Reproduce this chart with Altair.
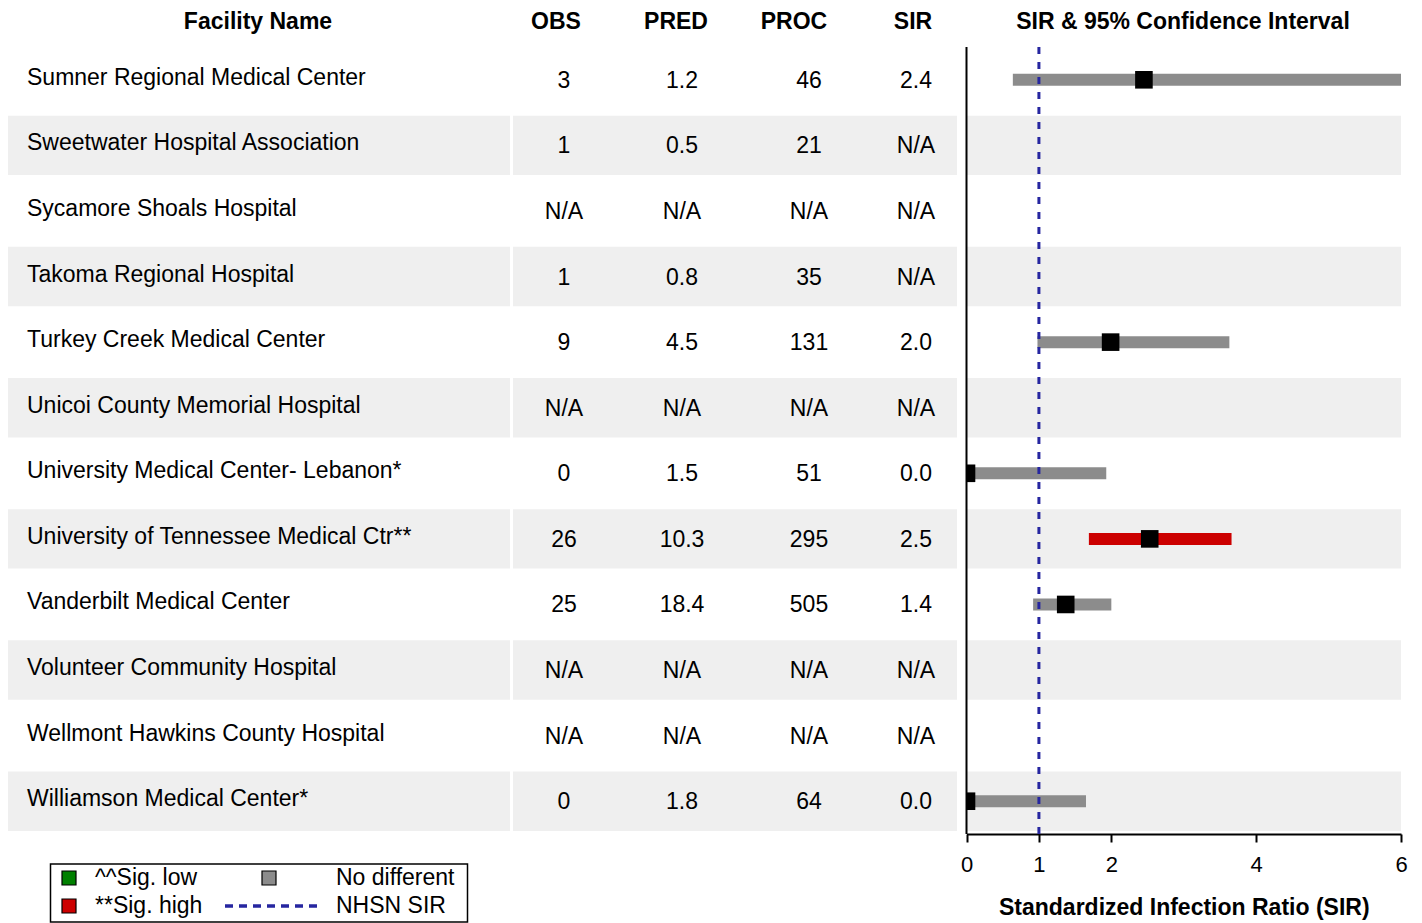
import altair as alt
import pandas as pd

facilities = [
    "Sumner Regional Medical Center",
    "Sweetwater Hospital Association",
    "Sycamore Shoals Hospital",
    "Takoma Regional Hospital",
    "Turkey Creek Medical Center",
    "Unicoi County Memorial Hospital",
    "University Medical Center- Lebanon*",
    "University of Tennessee Medical Ctr**",
    "Vanderbilt Medical Center",
    "Volunteer Community Hospital",
    "Wellmont Hawkins County Hospital",
    "Williamson Medical Center*",
]
obs = ["3", "1", "N/A", "1", "9", "N/A", "0", "26", "25", "N/A", "N/A", "0"]
pred = ["1.2", "0.5", "N/A", "0.8", "4.5", "N/A", "1.5", "10.3", "18.4", "N/A", "N/A", "1.8"]
proc = ["46", "21", "N/A", "35", "131", "N/A", "51", "295", "505", "N/A", "N/A", "64"]
sir = ["2.4", "N/A", "N/A", "N/A", "2.0", "N/A", "0.0", "2.5", "1.4", "N/A", "N/A", "0.0"]
sir_point = [2.45, None, None, None, 1.99, None, 0.0, 2.53, 1.37, None, None, 0.0]
ci_lower = [0.64, None, None, None, 0.98, None, 0.0, 1.69, 0.92, None, None, 0.0]
ci_upper = [6.0, None, None, None, 3.63, None, 1.93, 3.66, 2.00, None, None, 1.65]
category = ["No different", None, None, None, "No different", None, "No different",
            "Sig. high", "No different", None, None, "No different"]
striped = [i % 2 == 1 for i in range(len(facilities))]

cat_domain = ["Sig. low", "Sig. high", "No different"]
cat_colors = ["#008000", "#cc0000", "#8c8c8c"]
nhsn_value = 1
x_ticks = [0, 1, 2, 4, 6]

df = pd.DataFrame({
    "facility": facilities, "obs": obs, "pred": pred, "proc": proc, "sir": sir,
    "sir_point": sir_point, "lower": ci_lower, "upper": ci_upper,
    "category": category, "striped": striped,
})

FONT = "Liberation Sans"
W, H = 1393, 787
X_TITLE = "Standardized Infection Ratio (SIR)"

yscale = alt.Scale(domain=facilities, paddingInner=0, paddingOuter=0)
y_enc = alt.Y("facility:N", scale=yscale, axis=None, sort=None)
xs = alt.Scale(domain=[0, 6], range=[958.5, 1393], nice=False, zero=False)
x_axis = alt.Axis(values=x_ticks, grid=False, format="d", labelFlush=False)

base = alt.Chart(df)
stripes_df = base.transform_filter("datum.striped")

layers = []
# row stripes (three column blocks)
for x0, x1 in [(0, 502), (505, 950), (958, 1393)]:
    layers.append(
        stripes_df.mark_bar(color="#efefef", height=alt.RelativeBandSize(0.906)).encode(
            x=alt.value(x0), x2=alt.value(x1), y=y_enc
        )
    )

# facility names
layers.append(
    base.mark_text(align="left", baseline="middle", font=FONT, fontSize=23, color="black", dy=-2).encode(
        x=alt.value(19), y=y_enc, text="facility:N"
    )
)
# numeric columns
for field, xc in [("obs", 556), ("pred", 674), ("proc", 801), ("sir", 908)]:
    layers.append(
        base.mark_text(align="center", baseline="middle", font=FONT, fontSize=23, color="black", dy=1).encode(
            x=alt.value(xc), y=y_enc, text=f"{field}:N"
        )
    )

one = alt.Chart(pd.DataFrame({"k": [0]}))
# headers
for label, xc in [("Facility Name", 250), ("OBS", 548), ("PRED", 668), ("PROC", 786), ("SIR", 905),
                  ("SIR & 95% Confidence Interval", 1175)]:
    layers.append(
        one.mark_text(text=label, align="center", baseline="middle", font=FONT, fontSize=23,
                      fontWeight="bold", color="black").encode(x=alt.value(xc), y=alt.value(-25))
    )

# CI bars
layers.append(
    base.mark_bar(height=12, clip=True).encode(
        x=alt.X("lower:Q", scale=xs, axis=x_axis, title=X_TITLE),
        x2="upper:Q",
        y=y_enc,
        color=alt.Color("category:N", scale=alt.Scale(domain=cat_domain, range=cat_colors), legend=None),
    )
)
# SIR markers
layers.append(
    base.mark_point(shape="square", filled=True, size=310, color="black", opacity=1).encode(
        x=alt.X("sir_point:Q", scale=xs, axis=x_axis, title=X_TITLE), y=y_enc
    )
)
# mask the gap left of the plot's axis
layers.append(
    one.mark_rect(color="white").encode(x=alt.value(949), x2=alt.value(958.5), y=alt.value(0), y2=alt.value(H))
)
# vertical axis line at 0
layers.append(
    one.mark_rule(color="black", strokeWidth=2).encode(x=alt.datum(0, scale=xs))
)
# NHSN reference line
layers.append(
    one.mark_rule(color="#2626a0", strokeWidth=3, strokeDash=[7, 8]).encode(x=alt.datum(nhsn_value))
)

# legend
LY1, LY2 = 831, 859
layers.append(
    one.mark_rect(fill="white", stroke="black", strokeWidth=1.5).encode(
        x=alt.value(42.5), x2=alt.value(459.5), y=alt.value(817), y2=alt.value(875)
    )
)
for (cx, cy, col) in [(61, LY1, cat_colors[0]), (61, LY2, cat_colors[1]), (261, LY1, cat_colors[2])]:
    layers.append(
        one.mark_rect(fill=col, stroke="black", strokeWidth=1.2).encode(
            x=alt.value(cx - 7), x2=alt.value(cx + 7), y=alt.value(cy - 7), y2=alt.value(cy + 7)
        )
    )
layers.append(
    one.mark_rule(color="#2626a0", strokeWidth=3.5, strokeDash=[8, 6]).encode(
        x=alt.value(217), x2=alt.value(313), y=alt.value(LY2)
    )
)
for label, lx, ly in [("^^Sig. low", 87, LY1), ("**Sig. high", 87, LY2),
                      ("No different", 328, LY1), ("NHSN SIR", 328, LY2)]:
    layers.append(
        one.mark_text(text=label, align="left", baseline="middle", font=FONT, fontSize=23, color="black").encode(
            x=alt.value(lx), y=alt.value(ly)
        )
    )

chart = alt.layer(*layers).properties(
    width=W, height=H, padding={"top": 3, "left": 0, "right": 0, "bottom": 0}
).configure_view(stroke=None).configure_axisX(
    domainColor="black", domainWidth=2, tickColor="black", tickWidth=2, tickSize=8,
    labelFont=FONT, labelFontSize=22, labelColor="black", labelPadding=12,
    titleFont=FONT, titleFontSize=23, titleFontWeight="bold", titleColor="black", titlePadding=21,
)

chart.save("out.html", embed_options={"renderer": "svg", "actions": False})
